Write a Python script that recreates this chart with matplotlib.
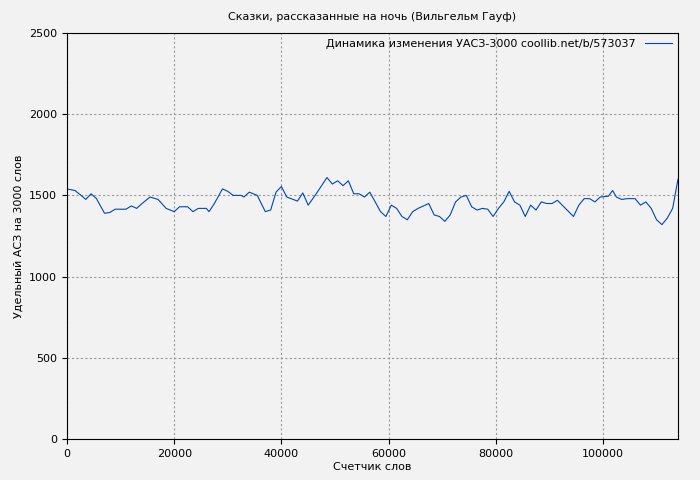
import matplotlib
matplotlib.use("Agg")
import matplotlib.pyplot as plt

xs = [0,1500,3000,3500,4500,5500,7000,8000,9000,11000,12000,13000,14000,15500,17000,18500,20000,21000,22500,23500,24500,26000,26500,27500,29000,30000,31000,32500,33000,34000,35500,37000,38000,39000,40000,41000,43000,44000,45000,46500,48500,49500,50500,51500,52500,53500,54500,55500,56500,57500,58500,59500,60500,61500,62500,63500,64500,65500,67500,68500,69500,70500,71500,72500,73500,74500,75500,76500,77500,78500,79500,80500,81500,82500,83500,84500,85500,86500,87500,88500,89500,90500,91500,94500,95500,96500,97500,98500,99500,101000,101800,102500,103500,104500,106000,107000,108000,109000,110000,111000,112000,113000,114000]
ys = [1540,1530,1490,1475,1510,1480,1390,1395,1415,1415,1435,1420,1450,1490,1475,1420,1400,1430,1430,1400,1420,1420,1400,1450,1540,1525,1500,1500,1490,1520,1500,1400,1410,1520,1555,1490,1465,1515,1440,1510,1610,1570,1590,1560,1590,1510,1510,1490,1520,1460,1400,1370,1440,1420,1370,1350,1400,1420,1450,1380,1370,1340,1380,1460,1490,1500,1430,1410,1420,1415,1370,1420,1460,1525,1460,1440,1370,1440,1410,1460,1450,1450,1470,1370,1440,1480,1480,1460,1490,1495,1530,1490,1475,1480,1480,1440,1460,1420,1350,1320,1360,1420,1600]

plt.rcParams['font.size'] = 8
fig = plt.figure(figsize=(7, 4.8), dpi=100, facecolor='#f2f2f2')
ax = fig.add_axes([67/700, 41/480, 611/700, 406/480])
ax.set_facecolor('#f2f2f2')
ax.plot(xs, ys, color='#0047b3', lw=0.8, label='Динамика изменения УАСЗ-3000 coollib.net/b/573037')
ax.set_xlim(0, 114000)
ax.set_ylim(0, 2500)
ax.set_yticks(range(0, 2501, 500))
ax.set_xticks(range(0, 100001, 20000))
ax.grid(True, color='#999999', linestyle=(0, (2, 2)), lw=0.8)
ax.set_title('Сказки, рассказанные на ночь (Вильгельм Гауф)', fontsize=8, pad=9)
ax.set_xlabel('Счетчик слов', labelpad=2)
ax.set_ylabel('Удельный АСЗ на 3000 слов')
ax.legend(loc='upper right', frameon=False, markerfirst=False, fontsize=8,
          borderaxespad=0.1, handlelength=2.5)
fig.savefig('out.png', dpi=100, facecolor='#f2f2f2')
